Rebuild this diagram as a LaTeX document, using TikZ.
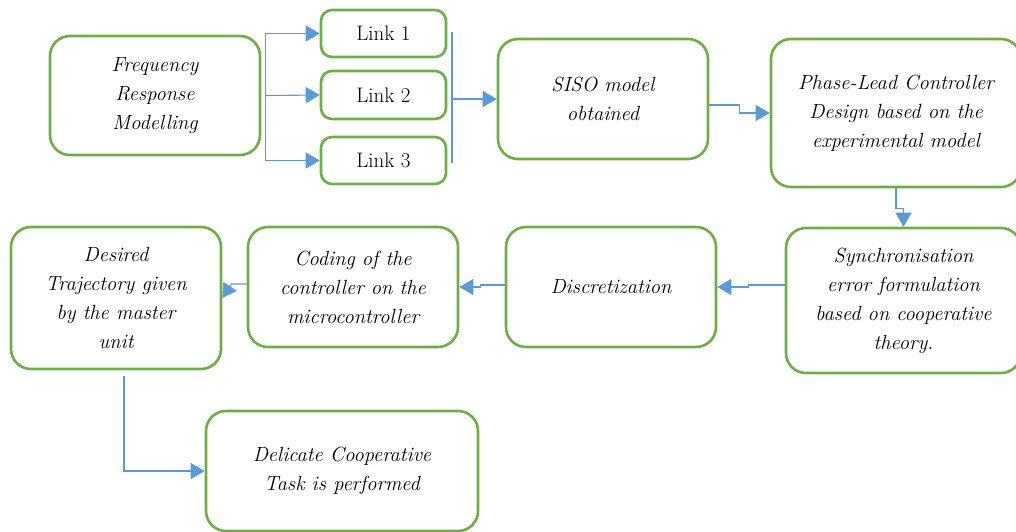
\documentclass[tikz,border=0pt]{standalone}
\usetikzlibrary{arrows.meta,calc}
\definecolor{boxgreen}{RGB}{112,173,71}
\definecolor{arrblue}{RGB}{91,155,213}
\begin{document}
\begin{tikzpicture}[x=1pt,y=-1pt,
 box/.style={draw=boxgreen,line width=2.6pt,rounded corners=20pt,fill=white,align=center,font=\fontsize{20.5}{29}\selectfont\itshape,inner sep=0pt},
 linkbox/.style={box,rounded corners=11pt,font=\fontsize{21}{29}\selectfont},
 arr/.style={draw=arrblue,line width=1.1pt,-{Triangle[length=14pt,width=16pt]}},
 ln/.style={draw=arrblue,line width=1.1pt}]
\useasboundingbox (0,0) rectangle (1016,531);
% boxes
\node[box,minimum width=210pt,minimum height=119pt] (freq) at (155,95.5) {Frequency\\Response\\Modelling};
\node[linkbox,minimum width=125pt,minimum height=47pt] (link1) at (383.5,33.5) {Link 1};
\node[linkbox,minimum width=125pt,minimum height=48pt] (link2) at (383.5,95) {Link 2};
\node[linkbox,minimum width=125pt,minimum height=47pt] (link3) at (383.5,160.5) {Link 3};
\node[box,minimum width=210pt,minimum height=120pt] (siso) at (603,99) {SISO model\\obtained};
\node[box,minimum width=250pt,minimum height=148pt] (phase) at (896,113) {Phase-Lead Controller\\Design based on the\\experimental model};
\node[box,minimum width=235pt,minimum height=145pt] (sync) at (903.5,300.5) {Synchronisation\\error formulation\\based on cooperative\\theory.};
\node[box,minimum width=210pt,minimum height=120pt] (disc) at (611,287) {Discretization};
\node[box,minimum width=210pt,minimum height=120pt] (coding) at (353,287) {Coding of the\\controller on the\\microcontroller};
\node[box,minimum width=210pt,minimum height=142pt] (desired) at (116,298) {Desired\\Trajectory given\\by the master\\unit};
\node[box,minimum width=272pt,minimum height=120pt] (delicate) at (342,471) {Delicate Cooperative\\Task is performed};
% connectors
\coordinate (fa) at ([xshift=4pt]freq.east);
\draw[arr] (fa) |- (link1.west);
\draw[arr] (fa) -- (link2.west);
\draw[arr] (fa) |- (link3.west);
\coordinate (ra) at (452,32);
\coordinate (rb) at (452,163);
\coordinate (rm) at (452,99);
\draw[ln] (ra) -- (rb);
\draw[arr] (rm) -- (siso.west);
\draw[arr] ([yshift=-6pt]siso.east) -- ++(30,0) |- (phase.west);
\draw[arr] (phase.south) -- ++(0,20) -| (sync.north);
\draw[arr] ([yshift=15.5pt]sync.west) -- ++(-36,0) |- (disc.east);
\draw[arr] ([yshift=2pt]disc.west) -- ++(-24,0) |- (coding.east);
\draw[arr] ([yshift=3pt]coding.west) -- ++(-15,0) -- (desired.east);
\draw[arr] ([xshift=8pt,yshift=-6pt]desired.south) |- (delicate.west);
\end{tikzpicture}
\end{document}
